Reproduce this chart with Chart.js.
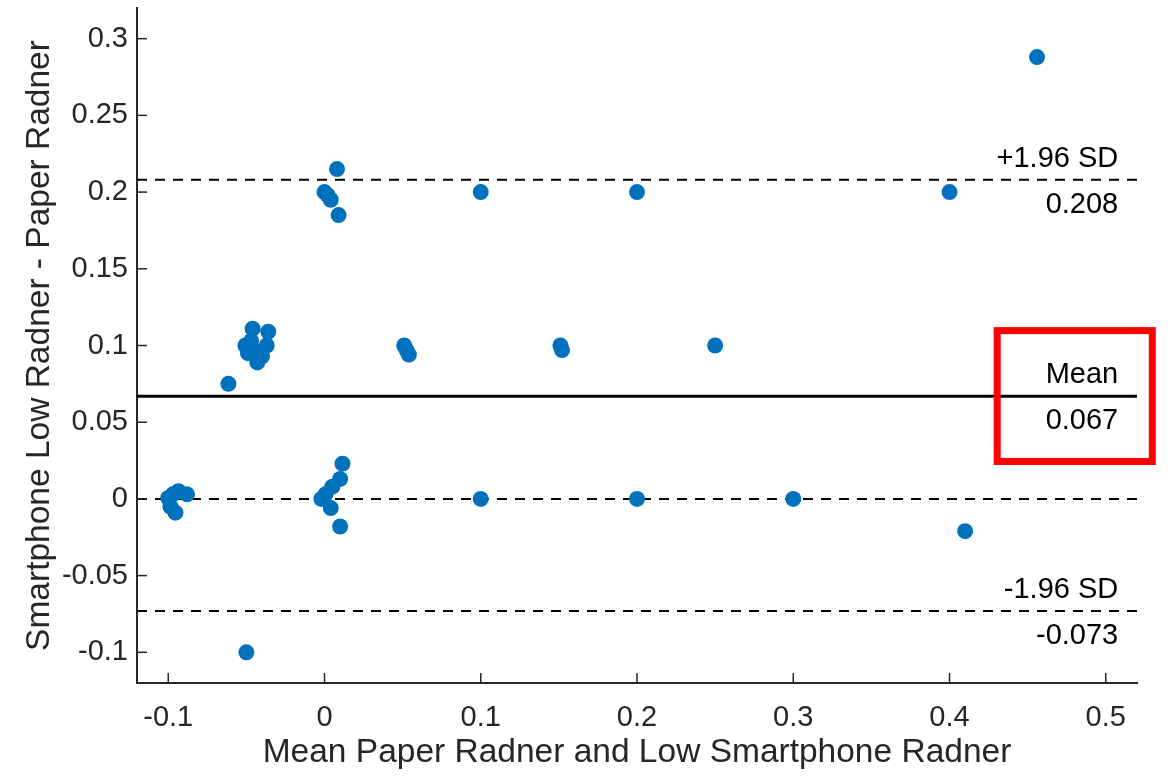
<!DOCTYPE html>
<html>
<head>
<meta charset="utf-8">
<script src="https://cdn.jsdelivr.net/npm/chart.js@4/dist/chart.umd.min.js"></script>
<style>
  html, body { margin: 0; padding: 0; background: #fff; }
  #wrap { width: 1170px; height: 776px; }
</style>
</head>
<body>
<div id="wrap"><canvas id="blandAltman"></canvas></div>
<script>
// mean of the two methods (x) and difference (y)
const meanValues = [
    0.456, 0.4, 0.2, 0.1, 0.008, 0, 0.002, 0.004, 0.009,
    0.25, 0.151, 0.152, 0.051, 0.0525, 0.054,
    -0.0615, -0.046, -0.036, -0.0506, -0.047, -0.042, -0.043, -0.037, -0.040, -0.049,
    0.3, 0.2, 0.1, 0.41, -0.05,
    -0.1, -0.097, -0.0935, -0.088, -0.0986, -0.0954,
    0.0115, 0.010, 0.005, 0.0006, -0.002, 0.004, 0.010
];
const diffValues = [
    0.288, 0.2, 0.2, 0.2, 0.215, 0.2, 0.198, 0.195, 0.185,
    0.1, 0.1, 0.097, 0.1, 0.097, 0.094,
    0.075, 0.111, 0.109, 0.1, 0.103, 0.096, 0.089, 0.1, 0.093, 0.095,
    0, 0, 0, -0.021, -0.1,
    0.0006, 0.003, 0.005, 0.003, -0.005, -0.009,
    0.023, 0.013, 0.008, 0.003, 0, -0.006, -0.018
];

// statistics
const meanDiff = 0.067;
const upperLoA = 0.208;
const lowerLoA = -0.073;

const xTicks = [-0.1, 0, 0.1, 0.2, 0.3, 0.4, 0.5];
const yTicks = [-0.1, -0.05, 0, 0.05, 0.1, 0.15, 0.2, 0.25, 0.3];
const xRange = [-0.12, 0.52];
const yRange = [-0.12, 0.32];

const refLines = [
    { value: upperLoA, dashed: true, top: '+1.96 SD', bottom: '0.208' },
    { value: meanDiff, dashed: false, top: 'Mean', bottom: '0.067' },
    { value: lowerLoA, dashed: true, top: '-1.96 SD', bottom: '-0.073' }
];
// highlighted box around the mean label (data units)
const boxX = [0.4305, 0.5298];
const boxY = [0.0244, 0.1097];

const FONT = "'Liberation Sans', Arial, Helvetica, sans-serif";
const AXIS_COLOR = '#262626';

function fmt(v) {
    return String(parseFloat(v.toFixed(3)));
}

function hLine(y, dashed, width) {
    return {
        type: 'line',
        data: [{ x: xRange[0], y: y }, { x: xRange[1], y: y }],
        borderColor: '#000',
        borderWidth: width,
        borderDash: dashed ? [10, 8] : [],
        pointRadius: 0,
        order: 1
    };
}

const points = meanValues.map((x, i) => ({ x: x, y: diffValues[i] }));

// inward tick marks, reference labels, red box
const decorPlugin = {
    id: 'decor',
    afterDraw(chart) {
        const ctx = chart.ctx;
        const xs = chart.scales.x;
        const ys = chart.scales.y;
        const area = chart.chartArea;
        ctx.save();
        ctx.strokeStyle = AXIS_COLOR;
        ctx.lineWidth = 1.5;
        xTicks.forEach(v => {
            const px = xs.getPixelForValue(v);
            ctx.beginPath();
            ctx.moveTo(px, area.bottom);
            ctx.lineTo(px, area.bottom - 10);
            ctx.stroke();
        });
        yTicks.forEach(v => {
            const py = ys.getPixelForValue(v);
            ctx.beginPath();
            ctx.moveTo(area.left, py);
            ctx.lineTo(area.left + 10, py);
            ctx.stroke();
        });

        ctx.fillStyle = '#000';
        ctx.font = '29px ' + FONT;
        ctx.textAlign = 'right';
        ctx.textBaseline = 'middle';
        const tx = xs.getPixelForValue(0.508);
        refLines.forEach(r => {
            const py = ys.getPixelForValue(r.value);
            ctx.fillText(r.top, tx, py - 21);
            ctx.fillText(r.bottom, tx, py + 25);
        });

        ctx.strokeStyle = '#FF0000';
        ctx.lineWidth = 7;
        const x0 = xs.getPixelForValue(boxX[0]);
        const x1 = xs.getPixelForValue(boxX[1]);
        const y0 = ys.getPixelForValue(boxY[1]);
        const y1 = ys.getPixelForValue(boxY[0]);
        ctx.strokeRect(x0, y0, x1 - x0, y1 - y0);
        ctx.restore();
    }
};

const ctx = document.getElementById('blandAltman').getContext('2d');
new Chart(ctx, {
    type: 'scatter',
    data: {
        datasets: [
            {
                label: 'Differences',
                data: points,
                backgroundColor: '#0072BD',
                borderWidth: 0,
                pointRadius: 8,
                pointHoverRadius: 8,
                order: 0
            },
            hLine(upperLoA, true, 2),
            hLine(meanDiff, false, 3),
            hLine(0, true, 2),
            hLine(lowerLoA, true, 2)
        ]
    },
    options: {
        responsive: true,
        maintainAspectRatio: false,
        animation: false,
        layout: { padding: { top: 7, right: 33, left: 0, bottom: 0 } },
        plugins: {
            legend: { display: false },
            tooltip: { enabled: false }
        },
        scales: {
            x: {
                type: 'linear',
                min: xRange[0],
                max: xRange[1],
                afterBuildTicks: s => { s.ticks = xTicks.map(v => ({ value: v })); },
                afterFit: s => { s.height = 93; s.paddingLeft = 0; s.paddingRight = 0; },
                grid: { display: false, drawTicks: false },
                border: { display: true, color: AXIS_COLOR, width: 2 },
                ticks: {
                    color: AXIS_COLOR,
                    font: { family: FONT, size: 29 },
                    padding: 18,
                    maxRotation: 0,
                    callback: v => fmt(v)
                },
                title: {
                    display: true,
                    text: 'Mean Paper Radner and Low Smartphone Radner',
                    color: AXIS_COLOR,
                    font: { family: FONT, size: 33.5 },
                    padding: { top: 0, bottom: 3 }
                }
            },
            y: {
                type: 'linear',
                min: yRange[0],
                max: yRange[1],
                afterBuildTicks: s => { s.ticks = yTicks.map(v => ({ value: v })); },
                afterFit: s => { s.width = 137; s.paddingTop = 0; s.paddingBottom = 0; },
                grid: { display: false, drawTicks: false },
                border: { display: true, color: AXIS_COLOR, width: 2 },
                ticks: {
                    color: AXIS_COLOR,
                    font: { family: FONT, size: 29 },
                    padding: 9,
                    callback: v => fmt(v)
                },
                title: {
                    display: true,
                    text: 'Smartphone Low Radner - Paper Radner',
                    color: AXIS_COLOR,
                    font: { family: FONT, size: 33.5 },
                    padding: { top: 20, bottom: 0 }
                }
            }
        }
    },
    plugins: [decorPlugin]
});
</script>
</body>
</html>
